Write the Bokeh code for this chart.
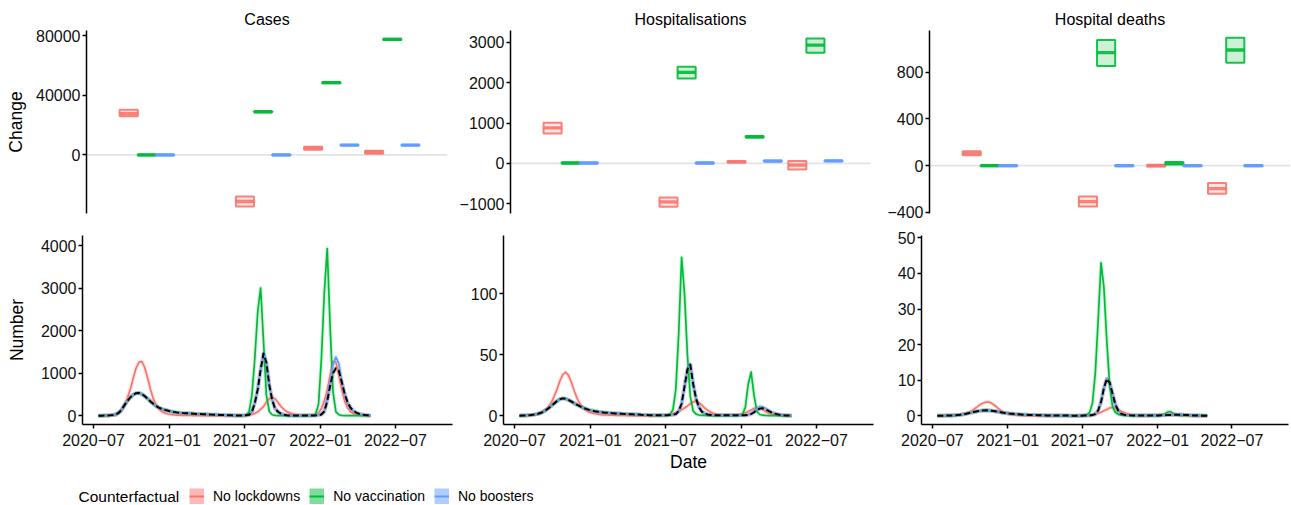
import pandas as pd
from bokeh.plotting import figure
from bokeh.models import (Range1d, FixedTicker, DatetimeTickFormatter, CustomJSTickFormatter,
                          Span, Legend, LegendItem, ColumnDataSource, Label)
from bokeh.layouts import column, row
from bokeh.embed import file_html
from bokeh.resources import INLINE

# ------------------------------------------------------------------ data
counterfactuals = ["No lockdowns", "No vaccination", "No boosters"]
colours = ["#F8766D", "#00BA38", "#619CFF"]

panel_titles = ["Cases", "Hospitalisations", "Hospital deaths"]

# dates of the weekly modelled series
week_dates = pd.date_range("2020-07-13", periods=95, freq="7D")

# periods over which the change is summarised (top row)
period_dates = pd.to_datetime(["2020-11-01", "2021-08-16", "2022-02-01", "2022-07-02"])

# ---- change (top row): lower / median / upper per period
cases_lockdowns_lo = [25900, -34500, 3500, 800]
cases_lockdowns_md = [27600, -31150, 4500, 1800]
cases_lockdowns_hi = [30300, -27800, 5500, 2800]
cases_vaccination_lo = [-300, 28600, 48000, 77000]
cases_vaccination_md = [0, 28950, 48400, 77400]
cases_vaccination_hi = [300, 29300, 48800, 77800]
cases_boosters_lo = [-300, -300, 6300, 6300]
cases_boosters_md = [0, 0, 6600, 6600]
cases_boosters_hi = [300, 300, 6900, 6900]

hosp_lockdowns_lo = [743, -1074, 20, -149]
hosp_lockdowns_md = [881, -950, 40, -42]
hosp_lockdowns_hi = [1005, -842, 60, 57]
hosp_vaccination_lo = [0, 2104, 640, 2738]
hosp_vaccination_md = [10, 2252, 658, 2928]
hosp_vaccination_hi = [20, 2391, 676, 3094]
hosp_boosters_lo = [0, 0, 45, 55]
hosp_boosters_md = [10, 10, 57, 65]
hosp_boosters_hi = [20, 20, 69, 75]

deaths_lockdowns_lo = [88, -350, -8, -242]
deaths_lockdowns_md = [105, -308, 0, -197]
deaths_lockdowns_hi = [122, -265, 8, -150]
deaths_vaccination_lo = [-5, 852, 10, 880]
deaths_vaccination_md = [0, 966, 20, 989]
deaths_vaccination_hi = [5, 1074, 30, 1094]
deaths_boosters_lo = [-5, -5, -5, -5]
deaths_boosters_md = [0, 0, 0, 0]
deaths_boosters_hi = [5, 5, 5, 5]

# ---- weekly numbers (bottom row)
cases_baseline = [
    2, 3, 5, 8, 12, 18, 30, 70, 140, 250,
    350, 430, 495, 530, 535, 510, 460, 400, 335, 275,
    225, 185, 158, 138, 120, 102, 90, 80, 72, 66,
    62, 57, 52, 48, 44, 40, 37, 33, 30, 27,
    25, 23, 20, 17, 15, 12, 10, 8, 7, 7,
    8, 12, 25, 90, 300, 620, 1080, 1460, 1250, 720,
    370, 170, 95, 50, 25, 13, 8, 6, 5, 5,
    5, 6, 6, 7, 8, 9, 12, 30, 100, 340,
    700, 1000, 1115, 1060, 800, 520, 320, 195, 120, 75,
    47, 30, 19, 12, 8]
cases_no_boosters = [
    2, 3, 5, 8, 12, 18, 30, 70, 140, 250,
    350, 430, 495, 530, 535, 510, 460, 400, 335, 275,
    225, 185, 158, 138, 120, 102, 90, 80, 72, 66,
    62, 57, 52, 48, 44, 40, 37, 33, 30, 27,
    25, 23, 20, 17, 15, 12, 10, 8, 7, 7,
    8, 12, 25, 90, 300, 620, 1080, 1460, 1250, 720,
    370, 170, 95, 50, 25, 13, 8, 6, 5, 5,
    5, 6, 6, 7, 8, 10, 15, 50, 110, 380,
    800, 1200, 1380, 1230, 800, 520, 300, 180, 110, 70,
    45, 28, 18, 12, 8]
cases_no_lockdowns = [
    2, 3, 5, 8, 12, 18, 30, 70, 140, 260,
    420, 620, 880, 1120, 1260, 1270, 1130, 880, 610, 390,
    240, 150, 95, 62, 42, 30, 22, 17, 13, 10,
    8, 7, 6, 5, 5, 4, 4, 3, 3, 3,
    3, 3, 3, 3, 3, 3, 3, 3, 3, 4,
    6, 10, 18, 32, 55, 95, 150, 215, 320, 400,
    435, 400, 310, 220, 150, 100, 68, 45, 30, 20,
    15, 12, 12, 14, 20, 35, 70, 170, 350, 600,
    950, 1270, 1260, 960, 620, 350, 190, 100, 55, 30,
    18, 11, 7, 5, 3]
cases_no_vaccination = [
    2, 3, 5, 8, 12, 18, 30, 70, 140, 250,
    350, 430, 495, 530, 535, 510, 460, 400, 335, 275,
    225, 185, 158, 138, 120, 102, 90, 80, 72, 66,
    62, 57, 52, 48, 44, 40, 37, 33, 30, 27,
    25, 23, 20, 17, 15, 12, 10, 8, 7, 7,
    8, 15, 90, 480, 1350, 2450, 3000, 1750, 480, 100,
    25, 8, 4, 3, 3, 3, 3, 3, 3, 3,
    3, 3, 4, 5, 12, 40, 270, 1350, 2900, 3930,
    2100, 560, 90, 25, 8, 4, 3, 3, 2, 2,
    2, 2, 2, 2, 2]

hosp_baseline = [
    0.2, 0.3, 0.4, 0.6, 0.8, 1.1, 1.5, 2.2, 3.2, 4.6,
    6.3, 8.2, 10.3, 12.3, 13.8, 14.4, 14.0, 13.0, 11.7, 10.3,
    9.0, 7.8, 6.7, 5.8, 5.0, 4.4, 3.9, 3.5, 3.2, 2.9,
    2.7, 2.5, 2.3, 2.1, 2.0, 1.9, 1.7, 1.6, 1.4, 1.3,
    1.2, 1.1, 0.9, 0.8, 0.7, 0.6, 0.5, 0.5, 0.5, 0.5,
    0.5, 0.6, 0.8, 1.0, 1.5, 4.0, 10, 24, 38, 42,
    26, 14, 7.0, 3.5, 2.0, 1.2, 0.8, 0.6, 0.5, 0.5,
    0.5, 0.5, 0.5, 0.5, 0.5, 0.5, 0.5, 0.5, 0.6, 0.9,
    1.6, 3.0, 4.8, 6.0, 6.3, 5.4, 4.1, 2.9, 2.0, 1.4,
    0.9, 0.6, 0.4, 0.3, 0.2]
hosp_no_boosters = [
    0.2, 0.3, 0.4, 0.6, 0.8, 1.1, 1.5, 2.2, 3.2, 4.6,
    6.3, 8.2, 10.3, 12.3, 13.8, 14.4, 14.0, 13.0, 11.7, 10.3,
    9.0, 7.8, 6.7, 5.8, 5.0, 4.4, 3.9, 3.5, 3.2, 2.9,
    2.7, 2.5, 2.3, 2.1, 2.0, 1.9, 1.7, 1.6, 1.4, 1.3,
    1.2, 1.1, 0.9, 0.8, 0.7, 0.6, 0.5, 0.5, 0.5, 0.5,
    0.5, 0.6, 0.8, 1.0, 1.5, 4.0, 10, 24, 38, 42,
    26, 14, 7.0, 3.5, 2.0, 1.2, 0.8, 0.6, 0.5, 0.5,
    0.5, 0.5, 0.5, 0.5, 0.5, 0.5, 0.5, 0.5, 0.6, 1.0,
    2.0, 3.8, 6.0, 7.9, 7.4, 6.2, 4.6, 3.2, 2.2, 1.5,
    1.0, 0.7, 0.5, 0.35, 0.25]
hosp_no_lockdowns = [
    0.2, 0.3, 0.4, 0.6, 0.8, 1.1, 1.5, 2.2, 3.2, 5.0,
    7.5, 11, 16, 22, 29, 34, 35.8, 33, 27, 20,
    14, 9.5, 6.5, 4.5, 3.2, 2.4, 1.8, 1.4, 1.1, 0.9,
    0.8, 0.7, 0.6, 0.5, 0.5, 0.4, 0.4, 0.3, 0.3, 0.3,
    0.3, 0.3, 0.2, 0.2, 0.2, 0.2, 0.2, 0.2, 0.3, 0.4,
    0.6, 0.9, 1.3, 2.0, 2.8, 3.8, 5.0, 6.5, 8.2, 10.0,
    11.5, 12.0, 11.0, 8.8, 6.5, 4.6, 3.2, 2.2, 1.5, 1.0,
    0.8, 0.7, 0.7, 0.7, 0.8, 1.0, 1.3, 1.8, 2.6, 3.6,
    4.8, 6.0, 6.8, 6.6, 5.3, 3.7, 2.4, 1.5, 0.9, 0.6,
    0.4, 0.3, 0.2, 0.2, 0.1]
hosp_no_vaccination = [
    0.2, 0.3, 0.4, 0.6, 0.8, 1.1, 1.5, 2.2, 3.2, 4.6,
    6.3, 8.2, 10.3, 12.3, 13.8, 14.4, 14.0, 13.0, 11.7, 10.3,
    9.0, 7.8, 6.7, 5.8, 5.0, 4.4, 3.9, 3.5, 3.2, 2.9,
    2.7, 2.5, 2.3, 2.1, 2.0, 1.9, 1.7, 1.6, 1.4, 1.3,
    1.2, 1.1, 0.9, 0.8, 0.7, 0.6, 0.5, 0.5, 0.5, 0.5,
    0.5, 0.6, 1.5, 5.0, 22, 68, 130, 100, 50, 16,
    4.0, 1.5, 0.8, 0.5, 0.4, 0.3, 0.3, 0.3, 0.3, 0.3,
    0.3, 0.3, 0.3, 0.3, 0.3, 0.3, 0.6, 1.2, 7.0, 26,
    36, 17, 3.5, 1.2, 0.6, 0.4, 0.3, 0.3, 0.3, 0.3,
    0.3, 0.3, 0.3, 0.3, 0.3]

deaths_baseline = [
    0.02, 0.03, 0.04, 0.06, 0.08, 0.10, 0.15, 0.20, 0.30, 0.42,
    0.58, 0.76, 0.95, 1.13, 1.30, 1.42, 1.50, 1.53, 1.50, 1.42,
    1.30, 1.16, 1.02, 0.88, 0.76, 0.65, 0.56, 0.48, 0.42, 0.37,
    0.32, 0.28, 0.25, 0.22, 0.20, 0.18, 0.16, 0.14, 0.12, 0.11,
    0.10, 0.09, 0.08, 0.07, 0.06, 0.06, 0.05, 0.05, 0.05, 0.05,
    0.05, 0.06, 0.08, 0.12, 0.20, 0.50, 1.5, 3.9, 7.8, 10.4,
    9.3, 6.2, 3.2, 1.4, 0.6, 0.3, 0.2, 0.15, 0.12, 0.10,
    0.10, 0.10, 0.10, 0.10, 0.10, 0.10, 0.10, 0.12, 0.14, 0.17,
    0.20, 0.24, 0.28, 0.31, 0.32, 0.30, 0.26, 0.21, 0.16, 0.12,
    0.09, 0.07, 0.05, 0.04, 0.03]
deaths_no_boosters = [
    0.02, 0.03, 0.04, 0.06, 0.08, 0.10, 0.15, 0.20, 0.30, 0.42,
    0.58, 0.76, 0.95, 1.13, 1.30, 1.42, 1.50, 1.53, 1.50, 1.42,
    1.30, 1.16, 1.02, 0.88, 0.76, 0.65, 0.56, 0.48, 0.42, 0.37,
    0.32, 0.28, 0.25, 0.22, 0.20, 0.18, 0.16, 0.14, 0.12, 0.11,
    0.10, 0.09, 0.08, 0.07, 0.06, 0.06, 0.05, 0.05, 0.05, 0.05,
    0.05, 0.06, 0.08, 0.12, 0.20, 0.50, 1.5, 3.9, 7.8, 10.4,
    9.3, 6.2, 3.2, 1.4, 0.6, 0.3, 0.2, 0.15, 0.12, 0.10,
    0.10, 0.10, 0.10, 0.10, 0.10, 0.10, 0.10, 0.12, 0.15, 0.20,
    0.25, 0.32, 0.38, 0.42, 0.42, 0.38, 0.32, 0.25, 0.19, 0.14,
    0.10, 0.08, 0.06, 0.04, 0.03]
deaths_no_lockdowns = [
    0.02, 0.03, 0.04, 0.06, 0.08, 0.10, 0.15, 0.20, 0.30, 0.45,
    0.70, 1.0, 1.4, 2.0, 2.6, 3.2, 3.6, 3.85, 3.85, 3.5,
    2.9, 2.2, 1.6, 1.1, 0.75, 0.50, 0.35, 0.25, 0.18, 0.13,
    0.10, 0.08, 0.07, 0.06, 0.05, 0.05, 0.04, 0.04, 0.04, 0.04,
    0.04, 0.04, 0.04, 0.04, 0.04, 0.04, 0.04, 0.04, 0.05, 0.06,
    0.07, 0.09, 0.10, 0.20, 0.30, 0.50, 0.70, 1.0, 1.4, 1.8,
    2.2, 2.35, 2.2, 1.8, 1.3, 0.9, 0.6, 0.4, 0.25, 0.15,
    0.10, 0.10, 0.10, 0.12, 0.15, 0.20, 0.25, 0.30, 0.34, 0.36,
    0.35, 0.32, 0.27, 0.22, 0.17, 0.13, 0.10, 0.07, 0.05, 0.04,
    0.03, 0.02, 0.02, 0.01, 0.01]
deaths_no_vaccination = [
    0.02, 0.03, 0.04, 0.06, 0.08, 0.10, 0.15, 0.20, 0.30, 0.42,
    0.58, 0.76, 0.95, 1.13, 1.30, 1.42, 1.50, 1.53, 1.50, 1.42,
    1.30, 1.16, 1.02, 0.88, 0.76, 0.65, 0.56, 0.48, 0.42, 0.37,
    0.32, 0.28, 0.25, 0.22, 0.20, 0.18, 0.16, 0.14, 0.12, 0.11,
    0.10, 0.09, 0.08, 0.07, 0.06, 0.06, 0.05, 0.05, 0.05, 0.05,
    0.05, 0.06, 0.30, 0.90, 3.5, 12, 27, 43, 36, 21,
    8.5, 2.6, 1.0, 0.4, 0.2, 0.1, 0.1, 0.1, 0.1, 0.1,
    0.1, 0.1, 0.1, 0.1, 0.1, 0.1, 0.1, 0.1, 0.2, 0.4,
    1.0, 1.2, 0.7, 0.3, 0.15, 0.1, 0.1, 0.1, 0.1, 0.1,
    0.1, 0.1, 0.1, 0.1, 0.1]

# axis ticks
date_tick_labels = ["2020-07-01", "2021-01-01", "2021-07-01", "2022-01-01", "2022-07-01"]
change_ticks = [[0, 40000, 80000], [-1000, 0, 1000, 2000, 3000], [-400, 0, 400, 800]]
number_ticks = [[0, 1000, 2000, 3000, 4000], [0, 50, 100], [0, 10, 20, 30, 40, 50]]

for s in [cases_baseline, cases_no_boosters, cases_no_lockdowns, cases_no_vaccination,
          hosp_baseline, hosp_no_boosters, hosp_no_lockdowns, hosp_no_vaccination,
          deaths_baseline, deaths_no_boosters, deaths_no_lockdowns, deaths_no_vaccination]:
    assert len(s) == len(week_dates), len(s)

# ------------------------------------------------------------------ style / layout
FONT = "Liberation Sans"
TICK_SIZE = "16px"
X_START = pd.Timestamp("2020-06-04 10:00")
X_END = pd.Timestamp("2022-11-15 20:00")
BAR_DAYS = 45
DODGE_DAYS = [-45, 0, 45]

top_ranges = [(-39200, 83350), (-1240, 3290), (-410, 1156)]
bottom_ranges = [(-205, 4235), (-7.0, 147.8), (-2.44, 50.65)]

# (width, border_left, border_right)
top_geom = [(449, 86, 2), (423, 61, 2), (418, 57, 0)]
bottom_geom = [(454, 82, 2), (421, 49, 2), (415, 46, 2)]
TOTAL_W = 1290
TOP_H, TOP_BT, TOP_BB = 224, 30, 11
BOT_H, BOT_BT, BOT_BB = 250, 11, 50
LEG_H = 30

num_fmt = CustomJSTickFormatter(code="return (tick < 0 ? '\u2212' : '') + String(Math.abs(tick));")
date_fmt = DatetimeTickFormatter(years="%Y\u2212%m", months="%Y\u2212%m", days="%Y\u2212%m",
                                 hours="%Y\u2212%m", hourmin="%Y\u2212%m")


def style_axis(ax):
    ax.axis_line_color = "black"
    ax.axis_line_width = 1.5
    ax.major_tick_line_color = "black"
    ax.major_tick_line_width = 1.5
    ax.major_tick_out = 4
    ax.major_tick_in = 0
    ax.minor_tick_line_color = None
    ax.major_label_text_font = FONT
    ax.major_label_text_font_size = TICK_SIZE
    ax.major_label_text_color = "#111111"
    ax.major_label_standoff = 2
    ax.axis_label_text_font = FONT
    ax.axis_label_text_font_size = "17.5px"
    ax.axis_label_text_font_style = "normal"
    ax.axis_label_text_color = "black"


def base_fig(width, height, bl, br, bt, bb, yr, xaxis):
    p = figure(width=width, height=height, output_backend="svg", toolbar_location=None, tools="",
               x_range=Range1d(X_START, X_END), y_range=Range1d(*yr),
               x_axis_type="datetime", x_axis_location="below" if xaxis else None,
               min_border_left=bl, min_border_right=br, min_border_top=bt, min_border_bottom=bb)
    p.outline_line_color = None
    p.grid.visible = False
    p.background_fill_color = "white"
    p.border_fill_color = "white"
    for ax in p.axis:
        style_axis(ax)
    return p


change_data = [
    [(cases_lockdowns_lo, cases_lockdowns_md, cases_lockdowns_hi),
     (cases_vaccination_lo, cases_vaccination_md, cases_vaccination_hi),
     (cases_boosters_lo, cases_boosters_md, cases_boosters_hi)],
    [(hosp_lockdowns_lo, hosp_lockdowns_md, hosp_lockdowns_hi),
     (hosp_vaccination_lo, hosp_vaccination_md, hosp_vaccination_hi),
     (hosp_boosters_lo, hosp_boosters_md, hosp_boosters_hi)],
    [(deaths_lockdowns_lo, deaths_lockdowns_md, deaths_lockdowns_hi),
     (deaths_vaccination_lo, deaths_vaccination_md, deaths_vaccination_hi),
     (deaths_boosters_lo, deaths_boosters_md, deaths_boosters_hi)],
]
number_data = [
    [cases_no_lockdowns, cases_no_vaccination, cases_no_boosters, cases_baseline],
    [hosp_no_lockdowns, hosp_no_vaccination, hosp_no_boosters, hosp_baseline],
    [deaths_no_lockdowns, deaths_no_vaccination, deaths_no_boosters, deaths_baseline],
]

top_figs = []
for j in range(3):
    w, bl, br = top_geom[j]
    p = base_fig(w, TOP_H, bl, br, TOP_BT, TOP_BB, top_ranges[j], xaxis=False)
    p.title.text = panel_titles[j]
    p.title.align = "center"
    p.title.text_font = FONT
    p.title.text_font_size = "16px"
    p.title.text_font_style = "normal"
    p.title.text_color = "black"
    p.title.standoff = 6
    p.yaxis.ticker = FixedTicker(ticks=change_ticks[j])
    p.yaxis.formatter = num_fmt
    p.add_layout(Span(location=0, dimension="width", line_color="#E3E3E3",
                      line_width=1.8, level="underlay"))
    for i in range(3):
        lo, md, hi = change_data[j][i]
        centre = period_dates + pd.Timedelta(days=DODGE_DAYS[i])
        half = pd.Timedelta(days=BAR_DAYS / 2)
        src = ColumnDataSource(dict(left=(centre - half).values, right=(centre + half).values,
                                    lo=lo, md=md, hi=hi))
        p.quad(left="left", right="right", bottom="lo", top="hi", source=src,
               fill_color=colours[i], fill_alpha=0.2,
               line_color=colours[i], line_width=2, line_alpha=0.9)
        p.segment(x0="left", y0="md", x1="right", y1="md", source=src,
                  line_color=colours[i], line_width=3.3, line_alpha=0.9)
    top_figs.append(p)
top_figs[0].yaxis.axis_label = "Change"
top_figs[0].yaxis.axis_label_standoff = 7

date_ticker = FixedTicker(ticks=[pd.Timestamp(d).value / 1e6 for d in date_tick_labels])

bottom_figs = []
for j in range(3):
    w, bl, br = bottom_geom[j]
    p = base_fig(w, BOT_H, bl, br, BOT_BT, BOT_BB, bottom_ranges[j], xaxis=True)
    p.yaxis.ticker = FixedTicker(ticks=number_ticks[j])
    p.yaxis.formatter = num_fmt
    p.xaxis.ticker = date_ticker
    p.xaxis.formatter = date_fmt
    p.xaxis.major_label_standoff = 5
    series = number_data[j]
    line_cols = colours + ["black"]
    dashes = ["solid", "solid", "solid", "6 3"]
    widths = [1.7, 1.7, 1.7, 2.0]
    for y, c in zip(series, line_cols):
        p.line(week_dates.values, y, line_color=c, line_width=4, line_alpha=0.18, line_join="round")
    for y, c, d, lw in zip(series, line_cols, dashes, widths):
        p.line(week_dates.values, y, line_color=c, line_width=lw, line_dash=d, line_join="round")
    bottom_figs.append(p)
bottom_figs[0].yaxis.axis_label = "Number"
bottom_figs[0].yaxis.axis_label_standoff = 11
bottom_figs[1].xaxis.axis_label = "Date"
bottom_figs[1].xaxis.axis_label_standoff = 3

# ------------------------------------------------------------------ legend
leg_fig = figure(width=TOTAL_W, height=LEG_H, output_backend="svg", toolbar_location=None, tools="",
                 x_range=Range1d(0, TOTAL_W), y_range=Range1d(0, LEG_H), min_border=0,
                 x_axis_location=None, y_axis_location=None)
leg_fig.outline_line_color = None
leg_fig.grid.visible = False
KEY_Y = 0
leg_fig.add_layout(Label(x=78, y=KEY_Y + 8, text="Counterfactual", text_font=FONT,
                         text_font_size="15.5px", text_baseline="middle", text_align="left",
                         text_color="black"))
items = []
for name, c in zip(counterfactuals, colours):
    # legend-only renderers, kept outside the visible range
    r_band = leg_fig.line(x=[-20, -10], y=[-20, -20], line_color=c, line_width=16, line_alpha=0.5)
    r_line = leg_fig.line(x=[-20, -10], y=[-20, -20], line_color=c, line_width=2)
    items.append(LegendItem(label=name, renderers=[r_band, r_line]))
legend = Legend(items=items, orientation="horizontal", location=(189, KEY_Y),
                label_text_font=FONT, label_text_font_size="14px", label_text_color="black",
                glyph_width=15, glyph_height=16, label_height=16,
                label_standoff=9, spacing=9,
                padding=0, margin=0, border_line_color=None, background_fill_alpha=0)
leg_fig.add_layout(legend)

layout = column(row(*top_figs), row(*bottom_figs), leg_fig)

with open("out.html", "w") as f:
    f.write(file_html(layout, INLINE, title="Counterfactual scenarios"))
